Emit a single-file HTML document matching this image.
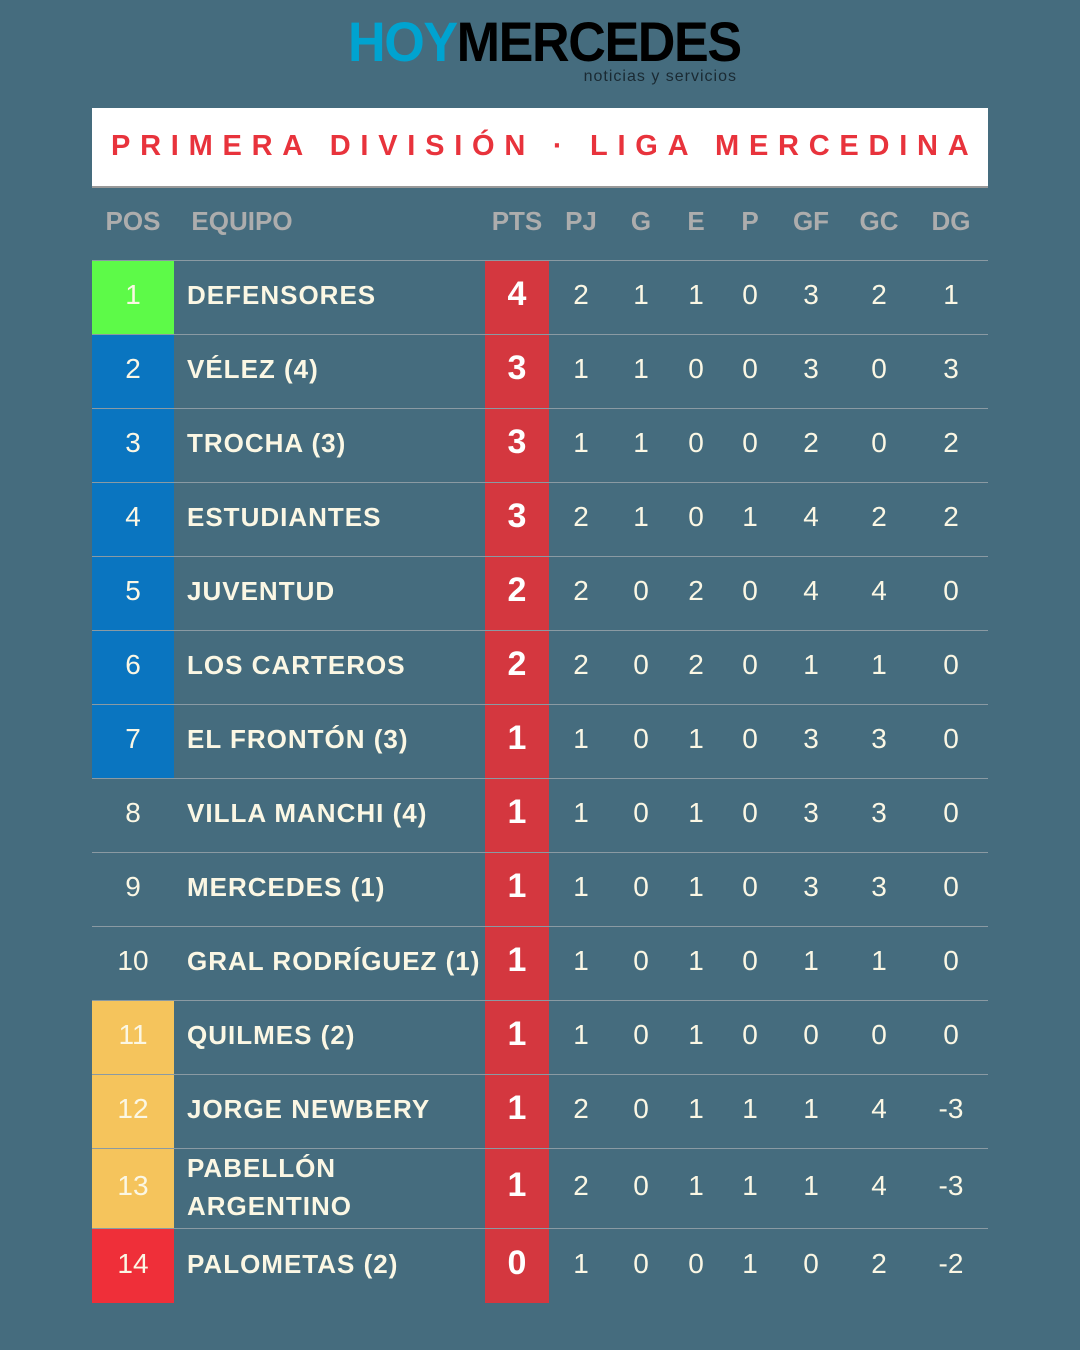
<!DOCTYPE html>
<html><head><meta charset="utf-8"><style>
*{margin:0;padding:0;box-sizing:border-box}
body{width:1080px;height:1350px;background:#456c7e;position:relative;overflow:hidden;font-family:"Liberation Sans",sans-serif}
.logo{position:absolute;left:348px;top:14px;font-size:56px;font-weight:bold;letter-spacing:-1.5px;line-height:56px;transform:scaleX(0.93);transform-origin:left;white-space:nowrap}
.sub{position:absolute;right:343px;top:68px;font-size:16px;color:#1a2a33;letter-spacing:1px}
.title{position:absolute;left:92px;top:108px;width:896px;height:80px;background:#fff;border-bottom:2px solid #999;color:#e8333c;font-size:29px;font-weight:bold;letter-spacing:9.75px;line-height:76px;padding-left:19px;white-space:nowrap;overflow:hidden}
.h{position:absolute;top:206px;color:#adadad;font-size:26px;font-weight:bold;transform:translateX(-50%)}
.red{position:absolute;left:485px;top:260px;width:64px;height:1043px;background:#d4373f}
.row{position:absolute;left:92px;width:896px;border-top:1.5px solid #8a9aa3}
.pos{position:absolute;left:0;top:0;width:82px;height:100%;color:#fbf7e4;font-size:28px;display:flex;align-items:center;justify-content:center;padding-bottom:5px}
.c{position:absolute;color:#fbf7e4;font-size:28px;transform:translateX(-50%)}
.t{position:absolute;left:95px;color:#fbf7e4;font-size:26px;font-weight:bold;letter-spacing:1px;line-height:38px}
.p{position:absolute;color:#fff;font-size:34px;font-weight:bold;transform:translateX(-50%)}
</style></head><body>
<div class="logo"><span style="color:#00a3d0">HOY</span><span style="color:#000">MERCEDES</span></div>
<div class="sub">noticias y servicios</div>
<div class="title">PRIMERA DIVISIÓN · LIGA MERCEDINA</div>
<div class="h" style="left:133px">POS</div>
<div class="h" style="left:242px">EQUIPO</div>
<div class="h" style="left:517px">PTS</div>
<div class="h" style="left:581px">PJ</div>
<div class="h" style="left:641px">G</div>
<div class="h" style="left:696px">E</div>
<div class="h" style="left:750px">P</div>
<div class="h" style="left:811px">GF</div>
<div class="h" style="left:879px">GC</div>
<div class="h" style="left:951px">DG</div>
<div class="red"></div>
<div id="rows"></div>
<script>
var d=[["DEFENSORES","4",2,1,1,0,3,2,1,"#5dfa48"],["VÉLEZ (4)","3",1,1,0,0,3,0,3,"#0a75c0"],["TROCHA (3)","3",1,1,0,0,2,0,2,"#0a75c0"],["ESTUDIANTES","3",2,1,0,1,4,2,2,"#0a75c0"],["JUVENTUD","2",2,0,2,0,4,4,0,"#0a75c0"],["LOS CARTEROS","2",2,0,2,0,1,1,0,"#0a75c0"],["EL FRONTÓN (3)","1",1,0,1,0,3,3,0,"#0a75c0"],["VILLA MANCHI (4)","1",1,0,1,0,3,3,0,""],["MERCEDES (1)","1",1,0,1,0,3,3,0,""],["GRAL RODRÍGUEZ (1)","1",1,0,1,0,1,1,0,""],["QUILMES (2)","1",1,0,1,0,0,0,0,"#f5c45c"],["JORGE NEWBERY","1",2,0,1,1,1,4,-3,"#f5c45c"],["PABELLÓN<br>ARGENTINO","1",2,0,1,1,1,4,-3,"#f5c45c"],["PALOMETAS (2)","0",1,0,0,1,0,2,-2,"#ef2f39"]];
var xs=[581,641,696,750,811,879,951],h="",y=260;
d.forEach(function(r,i){var hh=i==12?80:(i==13?75:74);var pad=(hh-38)/2-3;
h+='<div class="row" style="top:'+y+'px;height:'+hh+'px"><div class="pos" style="background:'+(r[9]||'transparent')+'">'+(i+1)+'</div>';
h+='<div class="t" style="top:'+(i==12?0:pad)+'px">'+r[0]+'</div>';
h+='<div class="p" style="left:425px;top:'+(pad-1)+'px">'+r[1]+'</div>';
for(var k=0;k<7;k++)h+='<div class="c" style="left:'+(xs[k]-92)+'px;top:'+(pad+3)+'px">'+r[k+2]+'</div>';
h+='</div>';y+=hh;});
document.getElementById('rows').innerHTML=h;
</script>
</body></html>
